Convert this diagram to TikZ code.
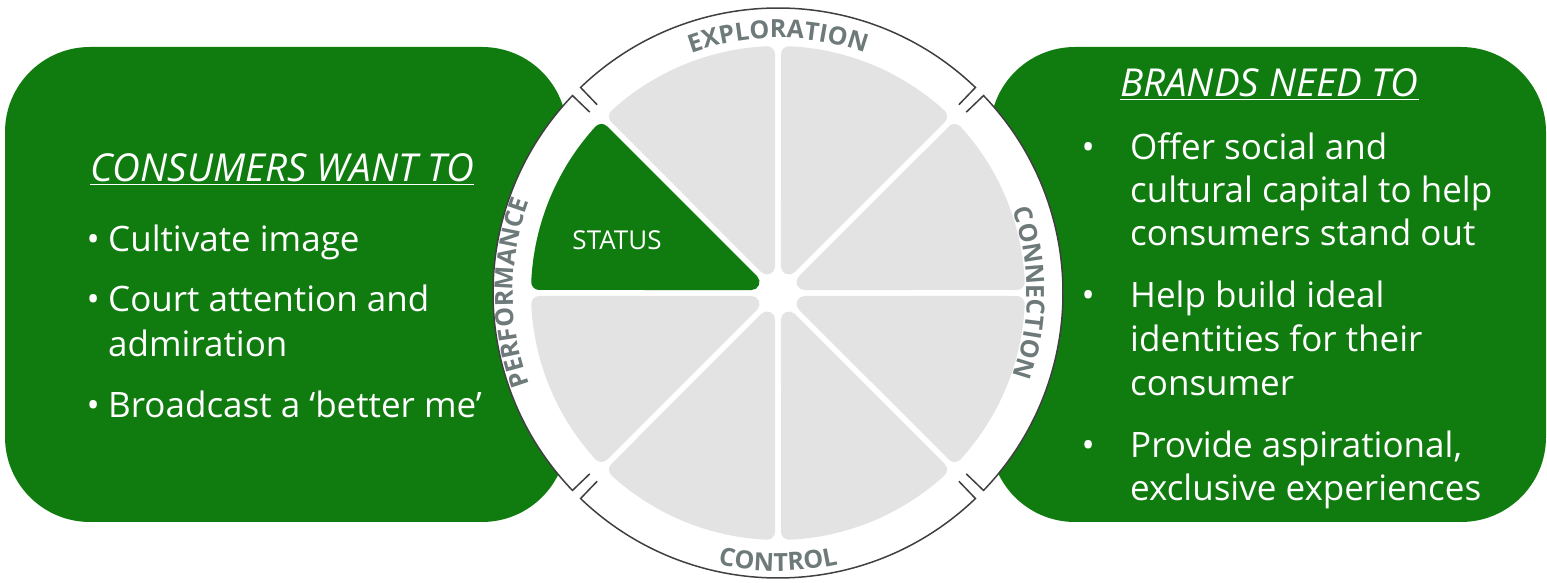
\documentclass[tikz,border=0pt]{standalone}
\usepackage{fontspec}
\setmainfont{Open Sans}
\usepackage{tikz}
\usetikzlibrary{calc}
\usetikzlibrary{decorations.text}
\definecolor{MSgreen}{RGB}{16,124,16}
\definecolor{Segmentgrau}{RGB}{227,227,227}
\definecolor{Ringgrau}{RGB}{110,122,122}
\definecolor{Liniengrau}{RGB}{64,64,64}
\newcommand\ringschrift{\bfseries\fontsize{25}{25}\selectfont}

\begin{document}
\begin{tikzpicture}[x=1pt, y=1pt,
	Kasten/.style={fill=MSgreen, rounded corners=85pt, inner sep=0pt},
	Segment/.style={fill=Segmentgrau, draw=Segmentgrau, line width=16pt, line join=round},
	Bogen/.style={draw=Liniengrau, line width=1.5pt},
	Zeile/.style={anchor=base west, inner sep=0pt, text=white, font=\fontsize{35}{40}\selectfont},
	Punkt/.style={Zeile, anchor=base east},
	Titel/.style={anchor=base west, inner sep=0pt, text=white, font=\fontsize{38.5}{40}\selectfont\itshape},
	Ringtext/.style={decorate, decoration={text along path, text align=center, text color=Ringgrau}}]
				\useasboundingbox (0,0) rectangle (1547,583);
				\coordinate (m) at (778,290);
				\node[Kasten, minimum width=562pt, minimum height=475pt] (want) at (286,298.5) {};
				\node[Kasten, minimum width=556pt, minimum height=475pt] (need) at (1268,298.5) {};
				% Rad mit acht Segmenten
				\fill[white] (m) circle[radius=285];
				\foreach \w in {0,45,...,315}
					\filldraw[Segment] ($(m)+(\w+22.5:28.7)$) -- ($(m)+(\w+2.64:239)$) arc[start angle=\w+2.64, end angle=\w+42.36, radius=239] -- cycle;
				\filldraw[Segment, fill=MSgreen, draw=MSgreen] ($(m)+(157.5:28.7)$) -- ($(m)+(137.64:239)$) arc[start angle=137.64, end angle=177.36, radius=239] -- cycle;
				\node[text=white, font=\fontsize{26}{26}\selectfont] (status) at (617,343) {STATUS};
				% Ring
				\foreach \c in {0,90,180,270}
					\draw[Bogen] ($(m)+(\c-43.85:261)$) -- ($(m)+(\c-43.85:285)$) arc[start angle=\c-43.85, end angle=\c+43.85, radius=285] -- ($(m)+(\c+43.85:261)$);
				\path[Ringtext, decoration={text={|\ringschrift|EXPLORATION}}] ($(m)+(135:255)$) arc[start angle=135, end angle=45, radius=255];
				\path[Ringtext, decoration={text={|\ringschrift|CONNECTION}}] ($(m)+(45:249)$) arc[start angle=45, end angle=-45, radius=249];
				\path[Ringtext, decoration={text={|\ringschrift|CONTROL}}] ($(m)+(225:278)$) arc[start angle=225, end angle=315, radius=278];
				\path[Ringtext, decoration={text={|\ringschrift|PERFORMANCE}}] ($(m)+(225:265)$) arc[start angle=225, end angle=135, radius=265];
				% links
				\node[Titel] (wantTitel) at (90,401) {\underline{CONSUMERS WANT TO}};
				\node[Zeile] (w1) at (108,331) {Cultivate image};
				\node[Punkt] (p1) at ($(w1.base west)+(-8,0)$) {•};
				\node[Zeile] (w2) at (108,271) {Court attention and};
				\node[Punkt] (p2) at ($(w2.base west)+(-8,0)$) {•};
				\node[Zeile] (w2b) at (108,226) {admiration};
				\node[Zeile] (w3) at (108,165) {Broadcast a ‘better me’};
				\node[Punkt] (p3) at ($(w3.base west)+(-8,0)$) {•};
				% rechts
				\node[Titel] (needTitel) at (1120,486) {\underline{BRANDS NEED TO}};
				\node[Zeile] (n1) at (1130,423) {Offer social and};
				\node[Punkt] (q1) at ($(n1.base west)+(-35,0)$) {•};
				\node[Zeile] (n1b) at (1130,380) {cultural capital to help};
				\node[Zeile] (n1c) at (1130,337) {consumers stand out};
				\node[Zeile] (n2) at (1130,275) {Help build ideal};
				\node[Punkt] (q2) at ($(n2.base west)+(-35,0)$) {•};
				\node[Zeile] (n2b) at (1130,231) {identities for their};
				\node[Zeile] (n2c) at (1130,187) {consumer};
				\node[Zeile] (n3) at (1130,125) {Provide aspirational,};
				\node[Punkt] (q3) at ($(n3.base west)+(-35,0)$) {•};
				\node[Zeile] (n3b) at (1130,82) {exclusive experiences};
			\end{tikzpicture}
\end{document}
